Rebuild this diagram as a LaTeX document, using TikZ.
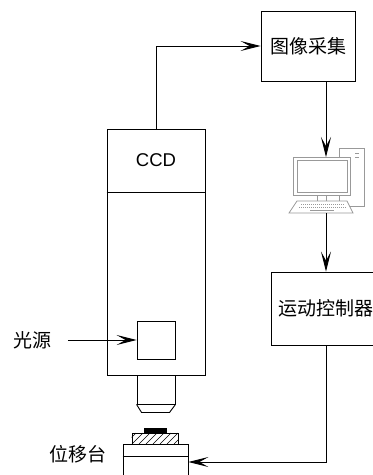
\documentclass[tikz,border=0pt]{standalone}
\usepackage{fontspec}
\setmainfont{Liberation Sans}
\newfontfamily\cjk{Noto Sans CJK SC}
\usetikzlibrary{arrows.meta}

\begin{document}
\begin{tikzpicture}[x=1pt, y=-1pt, line width=0.9pt,
    box/.style={draw, rectangle, inner sep=0pt},
    cjktext/.style={font=\cjk\fontsize{19}{21}\selectfont},
    arr/.style={-{Stealth[length=20pt,width=10pt,inset=9pt]}},
    pcline/.style={draw=black!40, line width=0.8pt}]
  \useasboundingbox (0,0) rectangle (373,475);
  \clip (0,0) rectangle (373,475);

  \node[box, cjktext, minimum width=94pt, minimum height=70pt] (acq) at (308,46) {图像采集};
  \node[box, minimum width=98pt, minimum height=246pt] (ccd) at (156,252) {};
  \node[font=\fontsize{18.5}{20}\selectfont] (ccdlabel) at (156,160) {CCD};
  \draw (ccd.west |- 0,192) -- (ccd.east |- 0,192);
  \node[box, minimum width=38pt, minimum height=38pt] (light) at (156,340) {};
  \node[cjktext] (lsrc) at (32,340) {光源};

  % objective
  \node[box, minimum width=38pt, minimum height=29pt] (lens) at (156,389.5) {};
  \draw (lens.south west) -- ++(5,8) -- ++(28,0) -- (lens.south east);

  % sample on the stage
  \fill (144,428) rectangle (167,433);
  \node[box, minimum width=46pt, minimum height=11pt] (plate) at (155,438.5) {};
  \begin{scope}
    \clip (plate.south west) rectangle (plate.north east);
    \foreach \i in {0,...,8}
      \draw[line width=0.6pt] (125+\i*7,444) -- ++(11,-11);
  \end{scope}
  \node[box, minimum width=65pt, minimum height=36pt] (stage) at (155.5,462) {};
  \draw (stage.west |- 0,456) -- (stage.east |- 0,456);
  \node[cjktext] (lstage) at (78,454) {位移台};

  % computer
  \draw[pcline, fill=white] (339,148) rectangle (364,206);
  \draw[pcline] (355,153) -- (359,153) (355,157) -- (359,157);
  \draw[pcline, fill=white] (293,157) rectangle (350,195);
  \draw[pcline] (297,160) rectangle (347,192);
  \draw[pcline] (317,195) -- (317,201) (326,195) -- (326,201);
  \draw[pcline, fill=white] (297,201) -- (347,201) -- (353,213) -- (289,213) -- cycle;
  \draw[pcline, line width=0.6pt, dash pattern=on 1pt off 1pt] (301,204.5) -- (344,204.5) (299,207.5) -- (347,207.5);
  \draw[pcline] (310,210.5) -- (334,210.5);
  \coordinate (pctop) at (326,157);
  \coordinate (pcbot) at (326,213);

  \node[box, cjktext, minimum width=110pt, minimum height=73pt] (ctrl) at (326,308.5) {运动控制器};

  \draw[arr] (ccd.north) |- (acq.west);
  \draw[arr] (acq.south -| pctop) -- (pctop);
  \draw[arr] (pcbot) -- (ctrl.north);
  \draw[arr] (ctrl.south) |- (stage.east);
  \draw[arr] ([xshift=13pt]lsrc.east) -- (light.west);
\end{tikzpicture}
\end{document}
